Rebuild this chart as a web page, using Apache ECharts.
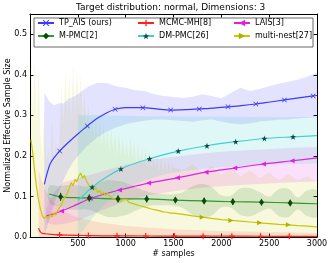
<!DOCTYPE html>
<html><head><meta charset="utf-8">
<script src="https://cdn.jsdelivr.net/npm/echarts@6/dist/echarts.min.js"></script>
<style>html,body{margin:0;padding:0;background:#fff}#c{width:332px;height:263px}</style>
</head><body><div id="c"></div><script>
// ---------- data ----------
const titleText = 'Target distribution: normal, Dimensions: 3';
const xTicks = [0, 500, 1000, 1500, 2000, 2500, 3000];
const yTicks = [0.0, 0.1, 0.2, 0.3, 0.4, 0.5];

// TP_AIS (ours)
const tpX = [150,180,210,250,310,400,500,600,700,800,890,1000,1180,1320,1470,1620,1770,1920,2070,2210,2360,2510,2660,2810,2960,3000];
const tpY = [0.13,0.158,0.18,0.195,0.212,0.233,0.254,0.274,0.292,0.306,0.315,0.319,0.319,0.316,0.313,0.314,0.316,0.318,0.321,0.324,0.328,0.333,0.338,0.343,0.348,0.349];
const tpMarks = [310,600,890,1180,1470,1770,2070,2360,2660,2960];
const tpBandX = [150,200,250,300,350,400,450,500,600,700,800,900,1000,1100,1200,1300,1400,1500,1600,1700,1800,1900,2000,2100,2200,2300,2400,2500,2600,2700,2800,2900,3000];
const tpBandHi = [0.356,0.335,0.325,0.33,0.33,0.34,0.345,0.352,0.37,0.38,0.38,0.372,0.368,0.362,0.36,0.352,0.348,0.345,0.343,0.346,0.352,0.348,0.342,0.355,0.368,0.36,0.365,0.372,0.378,0.383,0.388,0.396,0.405];
const tpBandLo = [0.005,0.04,0.08,0.11,0.14,0.165,0.185,0.2,0.225,0.245,0.26,0.27,0.278,0.283,0.287,0.29,0.29,0.288,0.286,0.284,0.288,0.29,0.285,0.28,0.278,0.28,0.285,0.287,0.289,0.29,0.292,0.294,0.295];

// MCMC-MH[8]
const mhX = [90,100,110,130,160,200,250,310,400,500,610,800,910,1210,1510,1810,2110,2410,2710,3000];
const mhY = [0.022,0.016,0.012,0.009,0.008,0.007,0.006,0.005,0.0045,0.004,0.0035,0.003,0.003,0.0025,0.0022,0.002,0.002,0.0018,0.0017,0.0016];
const mhMarks = [310,610,910,1210,1510,1810,2110,2410,2710];
const mhBandX = [90,110,130,150,200,250,300,400,500,700,1000,1500,2000,3000];
const mhBandHi = [0.165,0.15,0.135,0.12,0.1,0.085,0.072,0.058,0.048,0.037,0.027,0.019,0.015,0.01];
const mhBandLo = [0,0,0,0,0,0,0,0,0,0,0,0,0,0];

// LAIS[3]
const laisX = [170,250,330,450,630,780,935,1090,1240,1540,1840,2140,2440,2740,3000];
const laisY = [0.052,0.057,0.064,0.076,0.095,0.106,0.116,0.125,0.133,0.146,0.16,0.17,0.18,0.188,0.195];
const laisMarks = [330,630,935,1240,1540,1840,2140,2440,2740];
const laisBandX = [170,250,350,500,650,800,1000,1250,1500,1750,2000,2250,2500,2750,3000];
const laisBandHi = [0.07,0.11,0.135,0.145,0.155,0.165,0.178,0.19,0.198,0.205,0.21,0.214,0.217,0.22,0.222];
const laisBandLo = [0.035,0.03,0.032,0.04,0.055,0.07,0.088,0.103,0.113,0.12,0.125,0.129,0.132,0.135,0.137];

// M-PMC[2]
const pmcX = [200,320,470,620,920,1220,1520,1820,2120,2420,2720,3000];
const pmcY = [0.106,0.099,0.097,0.096,0.094,0.094,0.091,0.089,0.087,0.086,0.084,0.082];
const pmcMarks = [320,620,920,1220,1520,1820,2120,2420,2720];
const pmcErr = [0.01,0.009,0.009,0.009,0.008,0.008,0.008,0.008,0.008];
const pmcBandX = [200,300,400,500,600,700,800,900,1000,1100,1200,1300,1400,1500,1600,1700,1800,1900,2000,2100,2200,2300,2400,2500,2600,2700,2800,2900,3000];
const pmcBandHi = [0.126,0.125,0.128,0.127,0.124,0.13,0.14,0.139,0.134,0.124,0.114,0.108,0.106,0.105,0.111,0.125,0.131,0.123,0.103,0.102,0.12,0.121,0.111,0.1,0.118,0.119,0.098,0.115,0.114];
const pmcBandLo = [0.086,0.075,0.068,0.067,0.068,0.06,0.05,0.049,0.054,0.064,0.074,0.078,0.078,0.077,0.071,0.055,0.047,0.053,0.073,0.072,0.054,0.051,0.061,0.07,0.052,0.049,0.068,0.051,0.05];

// DM-PMC[26]
const dmX = [500,560,650,800,950,1100,1250,1400,1550,1850,2150,2450,2750,3000];
const dmY = [0.09,0.103,0.123,0.148,0.168,0.182,0.193,0.203,0.212,0.225,0.235,0.243,0.247,0.25];
const dmMarks = [650,950,1250,1550,1850,2150,2450,2750];
const dmBandX = [500,600,700,800,900,1000,1200,1400,1600,1800,2000,2200,2400,2600,2800,3000];
const dmBandHi = [0.3,0.3,0.301,0.3,0.299,0.299,0.298,0.298,0.297,0.297,0.297,0.296,0.296,0.296,0.296,0.296];
const dmBandLo = [0.0,0.03,0.06,0.085,0.105,0.12,0.14,0.155,0.163,0.168,0.172,0.175,0.177,0.179,0.18,0.181];

// multi-nest[27]
const mnX = [10,30,50,70,90,110,130,150,170,190,210,230,250,270,290,310,330,350,370,390,410,430,450,470,490,510,530,550,570,590,610,630,650,670,690,710,730,750,770,790,810,830,850,870,890,910,930,950,970,990,1010,1030,1050,1070,1090,1110,1130,1150,1170,1190,1210,1230,1250,1270,1290,1310,1330,1350,1370,1390,1410,1430,1450,1470,1490,1500,1600,1700,1800,1900,2000,2100,2200,2300,2400,2500,2600,2700,2800,2900,3000];
const mnY = [0.24,0.205,0.16,0.12,0.09,0.068,0.052,0.045,0.052,0.046,0.056,0.049,0.06,0.054,0.066,0.062,0.08,0.092,0.088,0.108,0.112,0.134,0.126,0.142,0.136,0.15,0.158,0.145,0.152,0.138,0.13,0.124,0.128,0.116,0.121,0.11,0.115,0.105,0.11,0.102,0.108,0.1,0.104,0.095,0.099,0.091,0.095,0.088,0.093,0.09,0.093,0.086,0.089,0.083,0.086,0.08,0.083,0.077,0.08,0.075,0.077,0.072,0.074,0.069,0.071,0.067,0.069,0.065,0.066,0.062,0.064,0.061,0.062,0.059,0.06,0.059,0.056,0.052,0.049,0.046,0.043,0.041,0.039,0.037,0.035,0.033,0.031,0.03,0.028,0.027,0.025];
const mnMarks = [1800,2100,2400,2700];
const mnBandHi = [0.46,0.3,0.44,0.28,0.42,0.25,0.2,0.33,0.18,0.22,0.16,0.3,0.18,0.24,0.2,0.26,0.38,0.27,0.42,0.3,0.4,0.28,0.43,0.3,0.41,0.32,0.4,0.29,0.36,0.27,0.33,0.25,0.31,0.24,0.3,0.23,0.29,0.22,0.28,0.22,0.27,0.21,0.27,0.21,0.26,0.2,0.26,0.2,0.25,0.2,0.24,0.19,0.25,0.19,0.24,0.18,0.23,0.18,0.22,0.18,0.22,0.17,0.21,0.17,0.21,0.17,0.2,0.16,0.2,0.16,0.19,0.16,0.19,0.155,0.185,0.17,0.165,0.18,0.16,0.175,0.155,0.17,0.15,0.165,0.145,0.16,0.14,0.155,0.14,0.15,0.135];

// ---------- helpers ----------
const FONT = 'DejaVu Sans';
function lineData(xs, ys, marks) {
  return xs.map((x, i) => marks.indexOf(x) >= 0 ? { value: [x, ys[i]] } : { value: [x, ys[i]], symbol: 'none' });
}
function band(id, xs, lo, hi, fill, smooth) {
  const data = xs.map((x, i) => [x, lo[i], hi[i]]);
  return {
    type: 'custom', name: id, silent: true, z: 1, clip: true, data: data,
    encode: { x: 0, y: [1, 2] },
    renderItem: function (params, api) {
      if (params.dataIndex !== 0) return null;
      const top = [], bot = [];
      for (let i = 0; i < data.length; i++) {
        top.push(api.coord([data[i][0], data[i][2]]));
        bot.push(api.coord([data[i][0], data[i][1]]));
      }
      return { type: 'polygon', shape: { points: top.concat(bot.reverse()), smooth: smooth || 0 },
               style: { fill: fill, stroke: 'none' } };
    }
  };
}
const SYM_X = 'path://M0,1 L1,0 L5,4 L9,0 L10,1 L6,5 L10,9 L9,10 L5,6 L1,10 L0,9 L4,5Z';
const SYM_PLUS = 'path://M4,0 H6 V4 H10 V6 H6 V10 H4 V6 H0 V4 H4 Z';
const SYM_STAR = 'path://M0,-10 L2.35,-3.24 L9.51,-3.09 L3.8,1.24 L5.88,8.09 L0,4 L-5.88,8.09 L-3.8,1.24 L-9.51,-3.09 L-2.35,-3.24Z';

function lineSeries(name, xs, ys, marks, color, sym, symSize, symColor, rotate, smooth) {
  return {
    type: 'line', name: name, data: lineData(xs, ys, marks), z: 3,
    smooth: smooth, showSymbol: true, showAllSymbol: true,
    symbol: sym, symbolSize: symSize, symbolRotate: rotate || 0,
    lineStyle: { color: color, width: 1.2 },
    itemStyle: { color: symColor, borderWidth: 0 },
    emphasis: { disabled: true }
  };
}

const pmcErrData = pmcMarks.map((x, i) => {
  const y = pmcY[pmcX.indexOf(x)];
  return [x, y - pmcErr[i], y + pmcErr[i]];
});

const chart = echarts.init(document.getElementById('c'), null, { renderer: 'canvas' });
const axisLbl = { fontSize: 8, color: '#000', fontFamily: FONT };
const option = {
  animation: false,
  textStyle: { fontFamily: FONT },
  title: { text: titleText, left: 76, top: 3, padding: 0,
           textStyle: { fontSize: 9, fontWeight: 'normal', color: '#000', fontFamily: FONT } },
  grid: { left: 30, right: 15, top: 14, bottom: 26, containLabel: false, outerBoundsMode: 'none' },
  xAxis: [
    { type: 'value', min: xTicks[0], max: xTicks[xTicks.length - 1], interval: 500, position: 'bottom',
      name: '# samples', nameLocation: 'middle', nameGap: 13, nameMoveOverlap: false,
      nameTextStyle: { fontSize: 8, color: '#000', fontFamily: FONT },
      axisLine: { onZero: false, lineStyle: { color: '#000', width: 1 } },
      axisTick: { inside: true, length: 3.5, lineStyle: { color: '#000' } },
      axisLabel: Object.assign({ margin: 3, hideOverlap: false, formatter: v => (v === 0 ? '' : String(v)) }, axisLbl),
      splitLine: { show: false } },
    { type: 'value', min: xTicks[0], max: xTicks[xTicks.length - 1], interval: 500, position: 'top',
      axisLine: { onZero: false, lineStyle: { color: '#000', width: 1 } },
      axisTick: { inside: true, length: 3.5, lineStyle: { color: '#000' } },
      axisLabel: { show: false }, splitLine: { show: false } }
  ],
  yAxis: [
    { type: 'value', min: 0, max: 0.55, interval: 0.1, position: 'left',
      name: 'Normalized Effective Sample Size', nameLocation: 'middle', nameGap: 18, nameMoveOverlap: false,
      nameTextStyle: { fontSize: 8, color: '#000', fontFamily: FONT },
      axisLine: { show: true, onZero: false, lineStyle: { color: '#000', width: 1 } },
      axisTick: { show: true, inside: true, length: 3.5, lineStyle: { color: '#000' } },
      axisLabel: Object.assign({ margin: 3, hideOverlap: false, formatter: v => {
        const hit = yTicks.find(t => Math.abs(t - v) < 1e-9);
        return hit === undefined ? '' : hit.toFixed(1);
      } }, axisLbl),
      splitLine: { show: false } },
    { type: 'value', min: 0, max: 0.55, interval: 0.1, position: 'right',
      axisLine: { show: true, onZero: false, lineStyle: { color: '#000', width: 1 } },
      axisTick: { show: true, inside: true, length: 3.5, lineStyle: { color: '#000' } },
      axisLabel: { show: false }, splitLine: { show: false } }
  ],
  legend: [
    { data: ['TP_AIS (ours)'], left: 37, top: 19 },
    { data: ['MCMC-MH[8]'], left: 137, top: 19 },
    { data: ['LAIS[3]'], left: 233, top: 19 },
    { data: ['M-PMC[2]'], left: 37, top: 32 },
    { data: ['DM-PMC[26]'], left: 137, top: 32 },
    { data: ['multi-nest[27]'], left: 233, top: 32 }
  ].map(l => Object.assign({ padding: 0, itemWidth: 16, itemHeight: 8, itemGap: 0, selectedMode: false,
        textStyle: { fontSize: 8, color: '#000', fontFamily: FONT, padding: [0, 0, 0, 0] } }, l)),
  graphic: { elements: [
    { type: 'rect', z: 3, shape: { x: 34, y: 18, width: 279, height: 29 },
      style: { fill: 'rgba(255,255,255,0.9)', stroke: '#444', lineWidth: 0.8 } }
  ] },
  series: [
    band('band-mn', mnX, mnX.map(() => 0), mnBandHi, 'rgba(200,200,0,0.13)', 0),
    band('band-mh', mhBandX, mhBandLo, mhBandHi, 'rgba(255,0,0,0.10)', 0),
    band('band-tp', tpBandX, tpBandLo, tpBandHi, 'rgba(70,70,255,0.15)', 0),
    band('band-lais', laisBandX, laisBandLo, laisBandHi, 'rgba(220,0,220,0.12)', 0),
    band('band-pmc', pmcBandX, pmcBandLo, pmcBandHi, 'rgba(0,110,0,0.12)', 0.35),
    band('band-dm', dmBandX, dmBandLo, dmBandHi, 'rgba(0,190,190,0.12)', 0),
    lineSeries('TP_AIS (ours)', tpX, tpY, tpMarks, '#3b3bff', SYM_X, 5, '#3b3bff', 0, 0.3),
    lineSeries('MCMC-MH[8]', mhX, mhY, mhMarks, '#ff2020', SYM_PLUS, 6, '#ff2020', 0, 0.3),
    lineSeries('LAIS[3]', laisX, laisY, laisMarks, '#e020e0', 'triangle', 5, '#e020e0', 90, 0.3),
    lineSeries('M-PMC[2]', pmcX, pmcY, pmcMarks, '#2e9a2e', 'diamond', [5, 7], '#0a4a0a', 0, 0.3),
    {
      type: 'custom', name: 'err-pmc', silent: true, z: 3, data: pmcErrData, encode: { x: 0, y: [1, 2] },
      renderItem: function (params, api) {
        const p1 = api.coord([api.value(0), api.value(1)]);
        const p2 = api.coord([api.value(0), api.value(2)]);
        return { type: 'line', shape: { x1: p1[0], y1: p1[1], x2: p2[0], y2: p2[1] },
                 style: { stroke: '#0a4a0a', lineWidth: 1 } };
      }
    },
    lineSeries('DM-PMC[26]', dmX, dmY, dmMarks, '#3fd0d0', SYM_STAR, 6, '#0d4a4a', 0, 0.3),
    lineSeries('multi-nest[27]', mnX, mnY, mnMarks, '#c8c800', 'triangle', 5, '#b0b000', -90, false)
  ]
};
chart.setOption(option);
</script></body></html>
